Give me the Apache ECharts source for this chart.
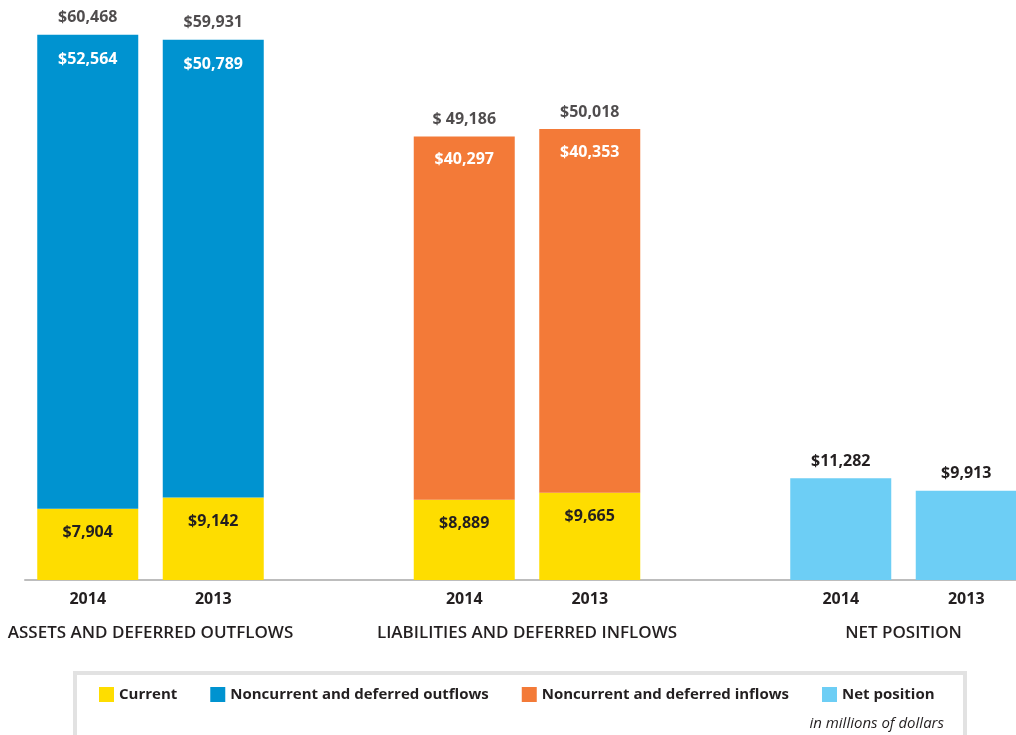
<!DOCTYPE html>
<html>
<head>
<meta charset="utf-8">
<script src="https://cdn.jsdelivr.net/npm/echarts@6/dist/echarts.min.js"></script>
<style>
  html, body { margin: 0; padding: 0; background: #ffffff; }
  #chart { width: 1016px; height: 735px; }
</style>
</head>
<body>
<div id="chart"></div>
<script>
// Slots on the category axis: two years per group, with an empty slot between groups
const slotKeys = ['assets-2014', 'assets-2013', 'gap-1', 'liab-2014', 'liab-2013', 'gap-2', 'net-2014', 'net-2013'];
const yearLabels = ['2014', '2013', '', '2014', '2013', '', '2014', '2013'];
const groupLabels = ['ASSETS AND DEFERRED OUTFLOWS', 'LIABILITIES AND DEFERRED INFLOWS', 'NET POSITION'];
const groupSlots = [[0, 1], [3, 4], [6, 7]];

// Values in millions of dollars
const current            = [7904, 9142, '-', 8889, 9665, '-', '-', '-'];
const noncurrentOutflows = [52564, 50789, '-', '-', '-', '-', '-', '-'];
const noncurrentInflows  = ['-', '-', '-', 40297, 40353, '-', '-', '-'];
const netPosition        = ['-', '-', '-', '-', '-', '-', 11282, 9913];
const totalPrefix        = ['$', '$', '', '$ ', '$', '', '', ''];

const seriesNames = ['Current', 'Noncurrent and deferred outflows', 'Noncurrent and deferred inflows', 'Net position'];

const INK = '#231f20';
const FONT = '"Open Sans", "Noto Sans", sans-serif';

const isNum = v => typeof v === 'number';
const totals = slotKeys.map((_, i) => {
  const top = isNum(noncurrentOutflows[i]) ? noncurrentOutflows[i] : noncurrentInflows[i];
  return (isNum(current[i]) && isNum(top)) ? current[i] + top : '-';
});
const money = v => '$' + Number(v).toLocaleString('en-US');

const labelBase = { fontFamily: FONT, fontSize: 16, fontWeight: 'bold' };

function barSeries(name, data, color, labelColor, position, distance) {
  return {
    name: name,
    type: 'bar',
    stack: 'all',
    barWidth: 101,
    data: data,
    itemStyle: { color: color },
    emphasis: { disabled: true },
    label: Object.assign({
      show: true,
      position: position,
      distance: distance,
      color: labelColor,
      formatter: p => money(p.value)
    }, labelBase)
  };
}

const chart = echarts.init(document.getElementById('chart'), null, { renderer: 'canvas' });

const legendBox = {
  id: 'legend-box',
  type: 'rect',
  z: -1,
  shape: { x: 75, y: 673, width: 890, height: 90 },
  style: { fill: '#ffffff', stroke: '#e2e2e2', lineWidth: 4 }
};
const unitNote = {
  id: 'unit-note',
  type: 'text',
  right: 1016 - 944,
  top: 716,
  style: {
    text: 'in millions of dollars',
    fill: INK,
    font: 'italic 15px ' + FONT
  }
};

chart.setOption({
  animation: false,
  backgroundColor: '#ffffff',
  grid: { left: 25, width: 1004, top: 3, height: 577, containLabel: false, outerBoundsMode: 'none' },
  xAxis: {
    type: 'category',
    data: slotKeys,
    axisLine: { show: true, lineStyle: { color: '#bdbdbd', width: 2 } },
    axisTick: { show: false },
    axisLabel: {
      margin: 11,
      color: INK,
      fontFamily: FONT,
      fontSize: 16,
      fontWeight: 'bold',
      formatter: (v, i) => yearLabels[i]
    },
    splitLine: { show: false }
  },
  yAxis: {
    type: 'value',
    min: 0,
    max: 64000,
    show: false,
    splitLine: { show: false }
  },
  legend: {
    data: seriesNames,
    left: 94,
    top: 682,
    icon: 'rect',
    itemWidth: 15,
    itemHeight: 15,
    itemGap: 33,
    selectedMode: false,
    textStyle: { color: INK, fontFamily: FONT, fontSize: 15, fontWeight: 'bold' }
  },
  series: [
    barSeries(seriesNames[0], current, '#fedd00', INK, 'insideTop', 16),
    barSeries(seriesNames[1], noncurrentOutflows, '#0093d0', '#ffffff', 'insideTop', 17),
    barSeries(seriesNames[2], noncurrentInflows, '#f37a38', '#ffffff', 'insideTop', 15),
    barSeries(seriesNames[3], netPosition, '#6dcef5', INK, 'top', 9),
    {
      name: 'Total',
      type: 'scatter',
      data: totals,
      symbolSize: 0,
      silent: true,
      label: Object.assign({
        show: true,
        position: 'top',
        distance: 9,
        color: INK,
        formatter: p => totalPrefix[p.dataIndex] + Number(p.value).toLocaleString('en-US')
      }, labelBase)
    }
  ],
  graphic: [legendBox, unitNote]
});

// Group captions centred under each pair of bars
const captions = groupSlots.map((slots, g) => {
  const x0 = chart.convertToPixel({ xAxisIndex: 0 }, slotKeys[slots[0]]);
  const x1 = chart.convertToPixel({ xAxisIndex: 0 }, slotKeys[slots[1]]);
  return {
    id: 'caption-' + g,
    type: 'text',
    x: (x0 + x1) / 2,
    y: 633,
    style: {
      text: groupLabels[g],
      fill: INK,
      font: '600 17px ' + FONT,
      align: 'center',
      verticalAlign: 'middle'
    }
  };
});
chart.setOption({ graphic: [legendBox, unitNote].concat(captions) });
</script>
</body>
</html>
